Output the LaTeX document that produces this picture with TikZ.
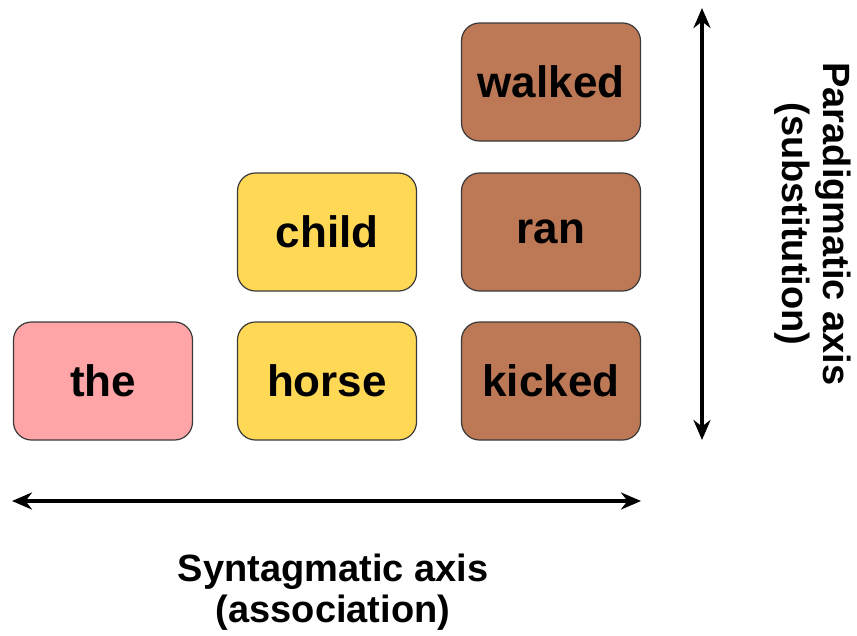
\documentclass[tikz,border=0pt]{standalone}
\usepackage{fontspec}
\setmainfont{Liberation Sans}
\usetikzlibrary{arrows.meta}
\definecolor{detpink}{HTML}{FFA5A7}
\definecolor{nounyellow}{HTML}{FFD955}
\definecolor{verbbrown}{HTML}{BD7855}
\definecolor{edgegray}{HTML}{3A3A3A}
\tikzset{
  word/.style={draw=edgegray, line width=1.2pt, rounded corners=18pt,
    minimum width=179pt, minimum height=118pt, inner sep=0pt,
    font=\fontsize{44}{50}\selectfont\bfseries},
  axis/.style={line width=3.8pt, {Stealth[length=20pt,width=17pt]}-{Stealth[length=20pt,width=17pt]}},
  axislabel/.style={align=center, inner sep=0pt,
    font=\fontsize{38}{41}\selectfont\bfseries}
}
\begin{document}
\begin{tikzpicture}[x=1pt, y=-1pt]
  \useasboundingbox (0,0) rectangle (857,635);
  % words of the sentence, one column per slot
  \node[word, fill=detpink]    (the)    at (103,381) {the};
  \node[word, fill=nounyellow] (horse)  at (327,381) {horse};
  \node[word, fill=nounyellow] (child)  at (327,232) {child};
  \node[word, fill=verbbrown]  (kicked) at (551,381) {kicked};
  \node[word, fill=verbbrown]  (ran)    at (551,232) {ran};
  \node[word, fill=verbbrown]  (walked) at (551,82)  {walked};
  % axes
  \coordinate (hl) at (12,501);
  \coordinate (hr) at (641,501);
  \coordinate (vt) at (702,8);
  \coordinate (vb) at (702,440);
  \draw[axis] (hl) -- (hr);
  \draw[axis] (vt) -- (vb);
  \node[axislabel] (synt) at (333,592) {Syntagmatic axis\\(association)};
  \node[axislabel, rotate=-90] (para) at (813,224) {Paradigmatic axis\\(substitution)};
\end{tikzpicture}
\end{document}
